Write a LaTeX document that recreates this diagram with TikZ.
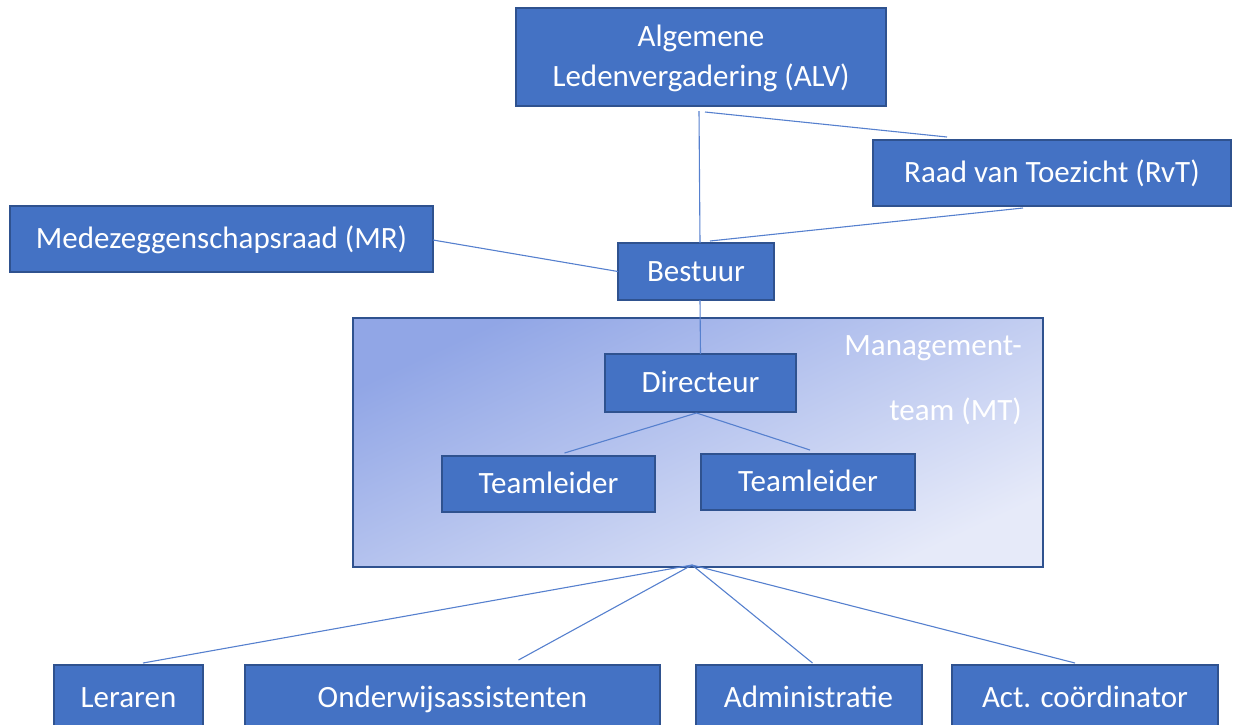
\documentclass[tikz,border=0pt]{standalone}
\usepackage{fontspec}
\setmainfont{Carlito}
\usetikzlibrary{calc}
\definecolor{boxblue}{RGB}{68,114,196}
\definecolor{boxborder}{RGB}{47,82,143}
\definecolor{linkblue}{RGB}{86,128,206}
\definecolor{mtdark}{RGB}{145,166,230}
\definecolor{mtlight}{RGB}{230,234,249}
\tikzset{
  orgbox/.style={draw=boxborder, line width=2pt, fill=boxblue, text=white,
    font=\fontsize{31}{40}\selectfont, text height=19pt, text depth=0pt,
    inner sep=0pt, outer sep=0pt},
  link/.style={draw=linkblue, line width=1.1pt},
  mtbox/.style={draw=boxborder, line width=2.2pt, top color=mtdark, bottom color=mtlight,
    shading angle=25, inner sep=0pt, outer sep=0pt},
  mtlabel/.style={text=white, font=\fontsize{31}{40}\selectfont, inner sep=0pt}
}
\begin{document}
\begin{tikzpicture}[x=1pt,y=-1pt]
\useasboundingbox (0,0) rectangle (1247,724);
\clip (0,0) rectangle (1247,724);
% management team area
\node[mtbox, minimum width=690pt, minimum height=249pt] (mt) at (698,442.5) {};
\node[mtlabel, anchor=base east] (mtl1) at (1022,355) {Management-};
\node[mtlabel, anchor=base east] (mtl2) at (1022,420) {team (MT)};
% boxes
\node[orgbox, align=center, text height=59pt, text depth=-5pt,
  minimum width=370pt, minimum height=98pt] (alv) at (701,57)
  {Algemene\\Ledenvergadering (ALV)};
\node[orgbox, minimum width=358pt, minimum height=66pt] (rvt) at (1052,173) {Raad van Toezicht (RvT)};
\node[orgbox, minimum width=423pt, minimum height=66pt] (mr) at (221.5,239) {Medezeggenschapsraad (MR)};
\node[orgbox, minimum width=156pt, minimum height=57pt] (bestuur) at (696,271.5) {Bestuur};
\node[orgbox, minimum width=191pt, minimum height=58pt] (dir) at (700.5,383) {Directeur};
\node[orgbox, minimum width=213pt, minimum height=56pt] (tl1) at (548.5,484) {Teamleider};
\node[orgbox, minimum width=214pt, minimum height=56pt] (tl2) at (808,482) {Teamleider};
\node[orgbox, minimum width=149pt, minimum height=65pt] (ler) at (128.5,697.5) {Leraren};
\node[orgbox, minimum width=415pt, minimum height=65pt] (oa) at (452.5,697.5) {Onderwijsassistenten};
\node[orgbox, minimum width=226pt, minimum height=65pt] (adm) at (808.5,697.5) {Administratie};
\node[orgbox, minimum width=266pt, minimum height=65pt] (act) at (1085,697.5) {Act. coördinator};
% connectors
\draw[link] ($(alv.south)+(-2,5)$) -- ($(bestuur.north)+(4,0)$);
\draw[link] ($(alv.south)+(4,6)$) -- ($(rvt.north)+(-105,-3)$);
\draw[link] ($(rvt.south)+(-29,2)$) -- ($(bestuur.north)+(14,-2)$);
\draw[link] ($(mr.east)+(0,1)$) -- (bestuur.west);
\draw[link] ($(bestuur.south)+(4,0)$) -- (dir.north);
\draw[link] ($(dir.south)+(-4,1)$) -- ($(tl1.north)+(16,-3)$);
\draw[link] ($(dir.south)+(-4,1)$) -- ($(tl2.north)+(2,-4)$);
\draw[link] ($(mt.south)+(-6,-2)$) -- ($(ler.north)+(14.5,-2)$);
\draw[link] ($(mt.south)+(-6,-2)$) -- ($(oa.north)+(66,-5)$);
\draw[link] ($(mt.south)+(-6,-2)$) -- ($(adm.north)+(4,-2)$);
\draw[link] ($(mt.south)+(-6,-2)$) -- ($(act.north)+(-10,-2)$);
\end{tikzpicture}
\end{document}
